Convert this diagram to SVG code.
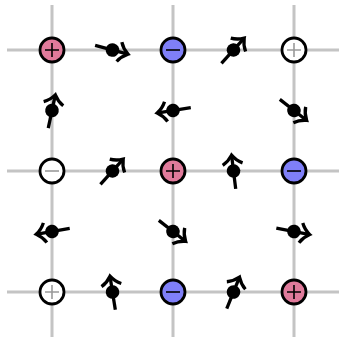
<svg xmlns="http://www.w3.org/2000/svg" xmlns:xlink="http://www.w3.org/1999/xlink" width="339" height="337" viewBox="0 0 339 337">
<style>
.grid line{stroke:#c4c4c4;stroke-width:3}
.site{stroke:#000;stroke-width:2.8}
.pink{fill:#e07a9b}
.blue{fill:#7f7ff8}
.white{fill:#fff}
.sd{stroke:#000;stroke-width:1.6;fill:none}
.sl{stroke:#9a9a9a;stroke-width:1.6;fill:none}
.spin line,.spin path{stroke:#000;stroke-width:3.3;fill:none}
</style>
<defs>
<g id="spin" class="spin">
<line x1="-18" y1="0" x2="15" y2="0"/>
<path d="M7,-10 Q10,-4 16,0 Q10,4 7,10"/>
<circle cx="0" cy="0" r="6.8" fill="#000"/>
</g>
<path id="plus" d="M-7,0H7M0,-7V7"/>
<path id="minus" d="M-7,0H7"/>
</defs>
<g class="grid">
<line x1="7" y1="50" x2="339" y2="50"/>
<line x1="7" y1="171" x2="339" y2="171"/>
<line x1="7" y1="292" x2="339" y2="292"/>
<line x1="52" y1="5" x2="52" y2="337"/>
<line x1="173" y1="5" x2="173" y2="337"/>
<line x1="294" y1="5" x2="294" y2="337"/>
</g>
<g id="connectors">
<use xlink:href="#spin" transform="translate(112.5,50) rotate(15)"/>
<use xlink:href="#spin" transform="translate(233.5,50) rotate(-48)"/>
<use xlink:href="#spin" transform="translate(52,110.5) rotate(-78)"/>
<use xlink:href="#spin" transform="translate(173,110.5) rotate(171)"/>
<use xlink:href="#spin" transform="translate(294,110.5) rotate(38)"/>
<use xlink:href="#spin" transform="translate(112.5,171) rotate(-48)"/>
<use xlink:href="#spin" transform="translate(233.5,171) rotate(-97)"/>
<use xlink:href="#spin" transform="translate(52,231.5) rotate(170)"/>
<use xlink:href="#spin" transform="translate(173,231.5) rotate(38)"/>
<use xlink:href="#spin" transform="translate(294,231.5) rotate(11)"/>
<use xlink:href="#spin" transform="translate(112.5,292) rotate(-99)"/>
<use xlink:href="#spin" transform="translate(233.5,292) rotate(-68)"/>
</g>
<g id="n00" transform="translate(52,50)"><circle class="site pink" r="12"/><use xlink:href="#plus" class="sd"/></g>
<g id="n10" transform="translate(173,50)"><circle class="site blue" r="12"/><use xlink:href="#minus" class="sd"/></g>
<g id="n20" transform="translate(294,50)"><circle class="site white" r="12"/><use xlink:href="#plus" class="sl"/></g>
<g id="n01" transform="translate(52,171)"><circle class="site white" r="12"/><use xlink:href="#minus" class="sl"/></g>
<g id="n11" transform="translate(173,171)"><circle class="site pink" r="12"/><use xlink:href="#plus" class="sd"/></g>
<g id="n21" transform="translate(294,171)"><circle class="site blue" r="12"/><use xlink:href="#minus" class="sd"/></g>
<g id="n02" transform="translate(52,292)"><circle class="site white" r="12"/><use xlink:href="#plus" class="sl"/></g>
<g id="n12" transform="translate(173,292)"><circle class="site blue" r="12"/><use xlink:href="#minus" class="sd"/></g>
<g id="n22" transform="translate(294,292)"><circle class="site pink" r="12"/><use xlink:href="#plus" class="sd"/></g>
</svg>
